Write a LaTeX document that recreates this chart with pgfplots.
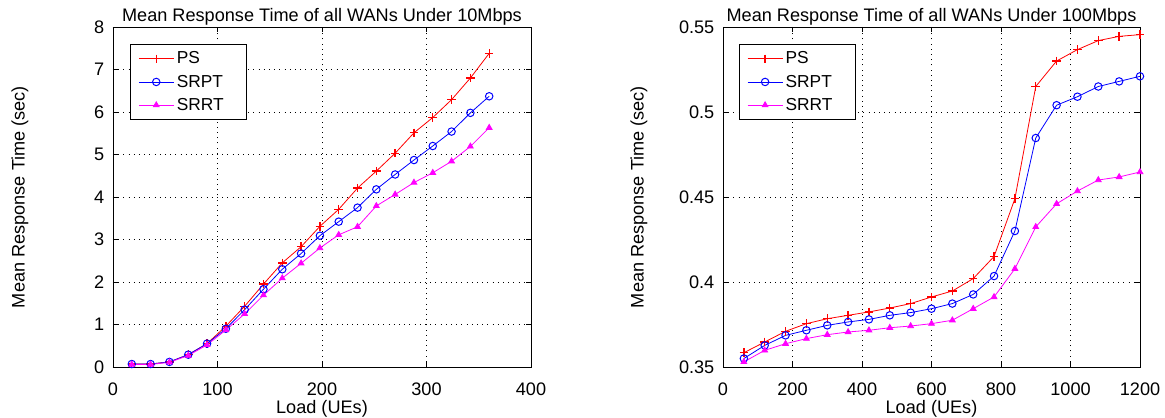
\documentclass[border=0pt]{standalone}
\usepackage{fontspec}
\setmainfont{Liberation Sans}
\usepackage{pgfplots}
\pgfplotsset{compat=1.18}
\definecolor{mred}{rgb}{1,0,0}
\definecolor{mblue}{rgb}{0,0,1}
\definecolor{mmag}{rgb}{1,0,1}

% common MATLAB-like look
\pgfplotsset{
  matstyle/.style={
    scale only axis,
    anchor=south west,
    height=255pt,
    font=\fontsize{13.6}{15.5}\selectfont,
    /pgf/number format/assume math mode=true,
    /pgf/number format/1000 sep={},
    axis line style={black, line width=0.6pt},
    tick align=inside,
    major tick length=3.5pt,
    tick style={black, line width=0.5pt},
    grid=major,
    major grid style={black, line width=0.7pt, dash pattern=on 0.7pt off 3.2pt},
    xticklabel style={yshift=-8.5pt},
    yticklabel style={xshift=-3pt},
    every axis title shift=0pt,
    title style={at={(axis description cs:0.5,1)}, anchor=base, yshift=4pt,
      font=\fontsize{13.6}{15.5}\selectfont},
    xlabel style={at={(axis description cs:0.5,-0.1235)}, anchor=center},
    legend cell align=left,
    legend style={draw=black, line width=0.6pt, fill=white, inner xsep=6pt, inner ysep=3.5pt,
      row sep=2.8pt, font=\fontsize{13}{15}\selectfont, anchor=north west},
    legend image code/.code={
      \draw[mark repeat=2, mark phase=2] plot coordinates {(0cm,0cm) (0.46cm,0cm) (0.92cm,0cm)};
    },
  },
  psline/.style={mred, line width=0.6pt, mark=+, mark size=3.2pt, mark options={solid, line width=1pt}},
  srptline/.style={mblue, line width=0.6pt, mark=o, mark size=2.8pt, mark options={solid, line width=0.75pt}},
  srrtline/.style={mmag, line width=0.6pt, mark=triangle*, mark size=2.5pt, mark options={solid, fill=mmag}},
}

\begin{document}
\begin{tikzpicture}
\begin{axis}[
  matstyle,
  at={(84.75pt,38.25pt)},
  width=313.5pt,
  xmin=0, xmax=400, ymin=0, ymax=8,
  xtick={0,100,200,300,400},
  ytick={0,1,2,3,4,5,6,7,8},
  title={Mean Response Time of all WANs Under 10Mbps},
  xlabel={Load (UEs)},
  ylabel={Mean Response Time (sec)},
  ylabel style={at={(axis description cs:-0.2225,0.5)}, anchor=center, rotate=0},
  legend style={at={(0.0407,0.95)}},
]
\addplot[psline] coordinates {
  (18,0.07) (36,0.07) (54,0.12) (72,0.29) (90,0.55)
  (108,0.96) (126,1.43) (144,1.95) (162,2.45) (180,2.83)
  (198,3.31) (216,3.71) (234,4.21) (252,4.61) (270,5.03)
  (288,5.51) (306,5.87) (324,6.29) (342,6.80) (360,7.38)
};
\addlegendentry{PS}
\addplot[srptline] coordinates {
  (18,0.07) (36,0.07) (54,0.12) (72,0.29) (90,0.55)
  (108,0.90) (126,1.35) (144,1.83) (162,2.30) (180,2.67)
  (198,3.09) (216,3.42) (234,3.75) (252,4.18) (270,4.53)
  (288,4.87) (306,5.20) (324,5.54) (342,5.98) (360,6.37)
};
\addlegendentry{SRPT}
\addplot[srrtline] coordinates {
  (18,0.06) (36,0.06) (54,0.11) (72,0.27) (90,0.52)
  (108,0.87) (126,1.25) (144,1.69) (162,2.09) (180,2.44)
  (198,2.80) (216,3.11) (234,3.30) (252,3.79) (270,4.06)
  (288,4.34) (306,4.57) (324,4.84) (342,5.19) (360,5.63)
};
\addlegendentry{\makebox[44pt][l]{SRRT}}
\end{axis}

\begin{axis}[
  matstyle,
  at={(542.25pt,38.25pt)},
  width=312.75pt,
  xmin=0, xmax=1200, ymin=0.35, ymax=0.55,
  xtick={0,200,400,600,800,1000,1200},
  ytick={0.35,0.4,0.45,0.5,0.55},
  yticklabels={0.35,0.4,0.45,0.5,0.55},
  title={Mean Response Time of all WANs Under 100Mbps},
  xlabel={Load (UEs)},
  ylabel={Mean Response Time (sec)},
  ylabel style={at={(axis description cs:-0.2014,0.5)}, anchor=center, rotate=0},
  legend style={at={(0.038,0.95)}},
]
\addplot[psline] coordinates {
  (60,0.3584) (120,0.3647) (180,0.3710) (240,0.3755) (300,0.3784)
  (360,0.3804) (420,0.3824) (480,0.3847) (540,0.3873) (600,0.3912)
  (660,0.3947) (720,0.4020) (780,0.4150) (840,0.4490) (900,0.5150)
  (960,0.5300) (1020,0.5367) (1080,0.5420) (1140,0.5445) (1200,0.5455)
};
\addlegendentry{PS}
\addplot[srptline] coordinates {
  (60,0.3550) (120,0.3627) (180,0.3686) (240,0.3716) (300,0.3745)
  (360,0.3765) (420,0.3780) (480,0.3804) (540,0.3820) (600,0.3843)
  (660,0.3873) (720,0.3927) (780,0.4035) (840,0.4300) (900,0.4847)
  (960,0.5040) (1020,0.5090) (1080,0.5150) (1140,0.5180) (1200,0.5210)
};
\addlegendentry{SRPT}
\addplot[srrtline] coordinates {
  (60,0.3530) (120,0.3598) (180,0.3637) (240,0.3667) (300,0.3690)
  (360,0.3706) (420,0.3716) (480,0.3731) (540,0.3741) (600,0.3755)
  (660,0.3775) (720,0.3843) (780,0.3912) (840,0.4078) (900,0.4324)
  (960,0.4460) (1020,0.4535) (1080,0.4600) (1140,0.4618) (1200,0.4647)
};
\addlegendentry{\makebox[44pt][l]{SRRT}}
\end{axis}
\pgfresetboundingbox
\path[use as bounding box] (0pt,0pt) rectangle (873.75pt,313.5pt);
\end{tikzpicture}
\end{document}
